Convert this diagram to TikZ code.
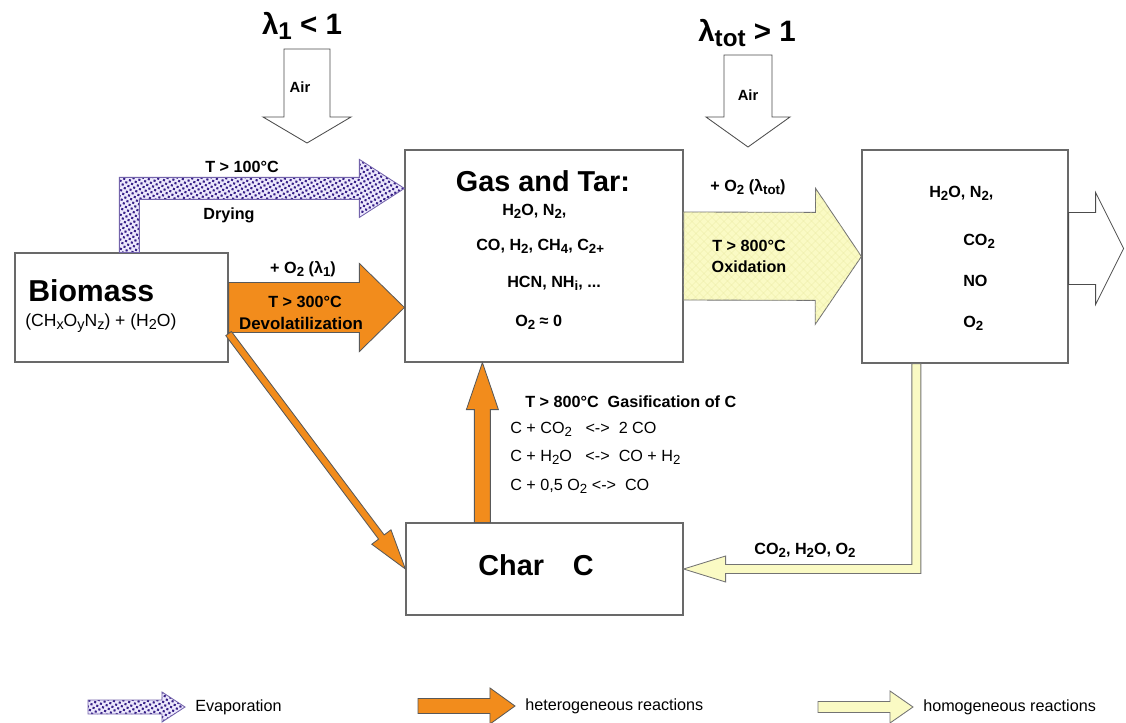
\documentclass[tikz,border=0pt]{standalone}
\usepackage{fontspec}
\setmainfont{Liberation Sans}
\usetikzlibrary{calc,patterns,patterns.meta,positioning}

\definecolor{hetorange}{RGB}{242,140,28}
\definecolor{homoyellow}{RGB}{250,250,196}
\definecolor{homogrid}{RGB}{236,236,168}
\definecolor{evapblue}{RGB}{55,32,135}
\definecolor{evapback}{RGB}{236,232,252}
\definecolor{boxgray}{RGB}{105,105,105}

\tikzstyle{box} = [rectangle, draw=boxgray, line width=0.8pt, fill=white, inner sep=0pt]
\tikzstyle{hetero} = [fill=hetorange, draw=black!65, line width=0.6pt]
\tikzstyle{homo} = [fill=homoyellow, draw=black!55, line width=0.6pt]
\tikzstyle{homohatch} = [preaction={fill=homoyellow}, pattern={Lines[angle=45, distance=4pt, line width=0.4pt]}, pattern color=homogrid, postaction={pattern={Lines[angle=-45, distance=4pt, line width=0.4pt]}, pattern color=homogrid}, draw=black!55, line width=0.6pt]
\tikzstyle{evap} = [preaction={fill=evapback}, pattern={Dots[radius=1.05pt, distance=3pt, angle=30]}, pattern color=evapblue, draw=evapblue!70, line width=0.6pt]
\tikzstyle{airflow} = [fill=white, draw=black!70, line width=0.6pt]
\tikzstyle{lbl} = [font=\bfseries\fontsize{11.5}{13}\selectfont, inner sep=0pt]
\tikzstyle{big} = [font=\bfseries\fontsize{20.5}{24}\selectfont, inner sep=0pt]
\tikzstyle{lam} = [font=\bfseries\fontsize{21}{24}\selectfont, inner sep=0pt]
\tikzstyle{eqn} = [font=\fontsize{11.5}{13}\selectfont, inner sep=0pt, anchor=west]
\tikzstyle{legend} = [font=\fontsize{11.5}{13}\selectfont, inner sep=0pt, anchor=west]

\newcommand{\dn}[1]{\raisebox{-0.35ex}{\scalebox{0.82}{#1}}}
\newcommand{\px}{0.7113pt}
% straight block arrow: style, from, to, shaft half width, head half width, head length (px)
\newcommand{\blockarrow}[6]{%
  \path[#1] let \p1=(#2), \p2=(#3),
    \n1={atan2(\y2-\y1,\x2-\x1)}, \n2={veclen(\x2-\x1,\y2-\y1)} in
    [shift={(\p1)}, rotate=\n1]
    (0pt,{#4*\px}) -- ({\n2*1pt-#6*\px},{#4*\px}) -- ({\n2*1pt-#6*\px},{#5*\px})
    -- ({\n2*1pt},0pt) -- ({\n2*1pt-#6*\px},{-#5*\px}) -- ({\n2*1pt-#6*\px},{-#4*\px})
    -- (0pt,{-#4*\px}) -- cycle;}

\begin{document}
\begin{tikzpicture}[x=0.025cm, y=-0.025cm]
\useasboundingbox (0,0) rectangle (1126,723);

% boxes
\node (bio) [box, minimum width=5.325cm, minimum height=2.725cm] at (121.5,307.5) {};
\node (gas) [box, minimum width=6.95cm, minimum height=5.3cm] at (544,256) {};
\node (prod) [box, minimum width=5.15cm, minimum height=5.325cm] at (965,256.5) {};
\node (char) [box, minimum width=6.925cm, minimum height=2.3cm] at (544.5,569) {};

% arrow ends
\coordinate (air1top) at (307,49);
\coordinate (air1tip) at (307,143);
\coordinate (air2top) at (748,55);
\coordinate (air2tip) at (748,147);
\coordinate (drystart) at ($(bio.north west)+(115,0)$);
\coordinate (dryend) at ($(gas.north west)+(0,39)$);
\coordinate (devend) at (bio.east -| gas.west);
\coordinate (diagstart) at ($(bio.south east)+(0,-29)$);
\coordinate (gasistart) at ($(char.north west)+(77,0)$);
\coordinate (gasiend) at (gasistart |- gas.south);
\coordinate (retstart) at ($(prod.south west)+(55,0)$);
\coordinate (exitstart) at ($(prod.east)+(0,-8)$);
\coordinate (exitend) at ($(exitstart)+(55,0)$);

% air inlets
\blockarrow{airflow}{air1top}{air1tip}{23}{44}{26}
\blockarrow{airflow}{air2top}{air2tip}{24}{42}{30}

% drying
\path[evap] let \p1=(drystart), \p2=(dryend) in
  ({\x1-10*\px},\y1) -- ({\x1-10*\px},{\y2+11*\px}) -- ({\x2-45*\px},{\y2+11*\px})
  -- ({\x2-45*\px},{\y2+29*\px}) -- (\p2) -- ({\x2-45*\px},{\y2-29*\px})
  -- ({\x2-45*\px},{\y2-11*\px}) -- ({\x1+10*\px},{\y2-11*\px}) -- ({\x1+10*\px},\y1) -- cycle;

% heterogeneous
\blockarrow{hetero}{bio.east}{devend}{25}{44}{45}
\blockarrow{hetero}{diagstart}{char.west}{3.5}{12}{40}
\blockarrow{hetero}{gasistart}{gasiend}{8}{16}{47}

% homogeneous
\blockarrow{homohatch}{gas.east}{prod.west}{44}{68}{46}
\path[homo] let \p1=(retstart), \p2=(char.east) in
  ({\x1+4.5*\px},\y1) -- ({\x1+4.5*\px},{\y2-4.5*\px}) -- ({\x2+42*\px},{\y2-4.5*\px})
  -- ({\x2+42*\px},{\y2-13*\px}) -- (\p2) -- ({\x2+42*\px},{\y2+13*\px})
  -- ({\x2+42*\px},{\y2+4.5*\px}) -- ({\x1-4.5*\px},{\y2+4.5*\px}) -- ({\x1-4.5*\px},\y1) -- cycle;
\blockarrow{airflow}{exitstart}{exitend}{36}{56}{28}

% labels
\node (lam1) [lam] at (302,26) {λ\dn{1} < 1};
\node (lamtot) [lam] at (747,33) {λ\dn{tot} > 1};
\node (air1lbl) [lbl, font=\bfseries\fontsize{10.5}{12}\selectfont] at (300,87) {Air};
\node (air2lbl) [lbl, font=\bfseries\fontsize{10.5}{12}\selectfont] at (748,95) {Air};
\node (drytemp) [lbl] at (242,167) {T > 100°C};
\node (drylbl) [lbl] at (229,215) {Drying};
\node (devo2) [lbl] at (303,269) {+ O\dn{2} (λ\dn{1})};
\node (devtemp) [lbl] at (305,302) {T > 300°C};
\node (devlbl) [lbl, font=\bfseries\fontsize{12}{14}\selectfont] at (301,323) {Devolatilization};
\node (oxo2) [lbl] at (748,187) {+ O\dn{2} (λ\dn{tot})};
\node (oxtemp) [lbl] at (749,246) {T > 800°C};
\node (oxlbl) [lbl] at (749,267) {Oxidation};

\node (biolbl) [big, font=\bfseries\fontsize{21.5}{25}\selectfont, anchor=west] at (28,291) {Biomass};
\node (biof) [eqn, font=\fontsize{12.5}{14}\selectfont] at (25,323) {(CH\dn{x}O\dn{y}N\dn{z}) + (H\dn{2}O)};

\node (gaslbl) [big] at (543,181) {Gas and Tar:};
\node (gas1) [lbl, anchor=west] at (502,211) {H\dn{2}O, N\dn{2},};
\node (gas2) [lbl, anchor=west] at (476,246) {CO, H\dn{2}, CH\dn{4}, C\dn{2+}};
\node (gas3) [lbl, anchor=west] at (507,283) {HCN, NH\dn{i}, ...};
\node (gas4) [lbl, anchor=west] at (515,322) {O\dn{2} ≈ 0};

\node (prod1) [lbl, anchor=west] at (929,193) {H\dn{2}O, N\dn{2},};
\node (prod2) [lbl, anchor=west] at (963,241) {CO\dn{2}};
\node (prod3) [lbl, anchor=west] at (963,281) {NO};
\node (prod4) [lbl, anchor=west] at (963,323) {O\dn{2}};

\node (charlbl) [big] at (536,565) {Char\quad C};

\node (gasitemp) [lbl, anchor=west] at (525,402) {T > 800°C\ \ Gasification of C};
\node (eq1) [eqn] at (510,429) {C + CO\dn{2}\ \ \ <->\ \ 2 CO};
\node (eq2) [eqn] at (510,457) {C + H\dn{2}O\ \ \ <->\ \ CO + H\dn{2}};
\node (eq3) [eqn] at (510,486) {C + 0,5 O\dn{2}\ <->\ \ CO};
\node (retlbl) [lbl] at (805,550) {CO\dn{2}, H\dn{2}O, O\dn{2}};

% legend
\coordinate (evapa) at (88,707);
\coordinate (evapb) at (185,707);
\coordinate (heta) at (418,706);
\coordinate (hetb) at (515,706);
\coordinate (homa) at (818,707);
\coordinate (homb) at (913,707);
\blockarrow{evap}{evapa}{evapb}{7}{15}{23}
\blockarrow{hetero}{heta}{hetb}{7.5}{18}{25}
\blockarrow{homo}{homa}{homb}{5.5}{16}{23}
\node (evaplbl) [legend] at (195,707) {Evaporation};
\node (hetlbl) [legend] at (525,706) {heterogeneous reactions};
\node (homlbl) [legend] at (923,707) {homogeneous reactions};
\end{tikzpicture}
\end{document}
